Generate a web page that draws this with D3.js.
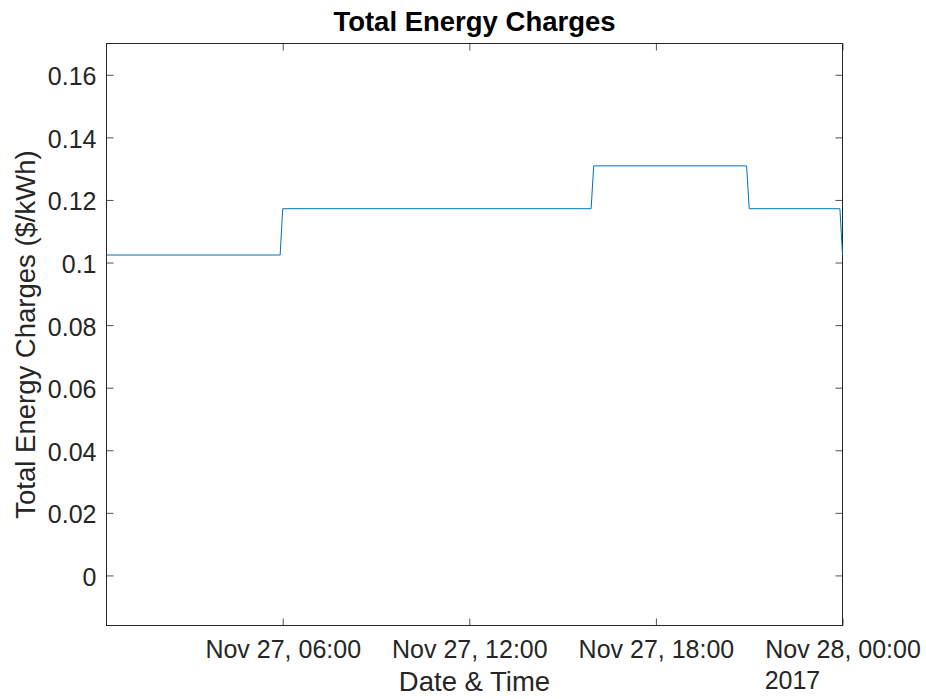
<!DOCTYPE html>
<html>
<head>
<meta charset="utf-8">
<script src="https://cdn.jsdelivr.net/npm/d3@7"></script>
<style>
  html, body { margin: 0; padding: 0; background: #fff; }
  svg { display: block; font-family: "Liberation Sans", Arial, Helvetica, sans-serif; }
</style>
</head>
<body>
<svg id="chart" width="926" height="699"></svg>
<script>
// ---- data ----
const times = ["2017-11-27T00:20","2017-11-27T05:55","2017-11-27T06:00","2017-11-27T15:55","2017-11-27T16:00","2017-11-27T20:55","2017-11-27T21:00","2017-11-27T23:55","2017-11-28T00:00"];
const values = [0.1024, 0.1024, 0.1172, 0.1172, 0.1309, 0.1309, 0.1172, 0.1172, 0.1024];
const xDomain = ["2017-11-27T00:20", "2017-11-28T00:00"];
const yDomain = [-0.016, 0.17];
const yTicks = [0, 0.02, 0.04, 0.06, 0.08, 0.1, 0.12, 0.14, 0.16];
const yTickLabels = ["0", "0.02", "0.04", "0.06", "0.08", "0.1", "0.12", "0.14", "0.16"];
const xTicks = ["2017-11-27T06:00", "2017-11-27T12:00", "2017-11-27T18:00", "2017-11-28T00:00"];
const xTickLabels = ["Nov 27, 06:00", "Nov 27, 12:00", "Nov 27, 18:00", "Nov 28, 00:00"];
const yearLabel = "2017";
const titleText = "Total Energy Charges";
const xLabelText = "Date & Time";
const yLabelText = "Total Energy Charges ($/kWh)";

// ---- layout ----
const parse = d3.timeParse("%Y-%m-%dT%H:%M");
const L = 106.5, R = 842.5, T = 43.5, B = 625.5;
const axisColor = "#262626";
const tickLen = 7;

const svg = d3.select("#chart");
const x = d3.scaleTime().domain(xDomain.map(parse)).range([L, R]);
const y = d3.scaleLinear().domain(yDomain).range([B, T]);

const data = times.map((t, i) => ({ t: parse(t), v: values[i] }));

// box
svg.append("rect").attr("x", L).attr("y", T).attr("width", R - L).attr("height", B - T)
  .attr("fill", "none").attr("stroke", axisColor).attr("stroke-width", 1);

// axes via d3 (inner ticks)
const xt = xTicks.map(parse);
const xAxisB = d3.axisBottom(x).tickValues(xt).tickSizeInner(-tickLen).tickSizeOuter(0).tickFormat((d, i) => xTickLabels[i]).tickPadding(0);
const gx = svg.append("g").attr("transform", `translate(0,${B})`).call(xAxisB);
gx.select(".domain").remove();
gx.selectAll(".tick line").attr("stroke", axisColor).attr("stroke-width", 0.8);
gx.selectAll(".tick text").attr("fill", axisColor).attr("font-size", 25)
  .attr("y", 32).attr("dy", 0).attr("font-family", "Liberation Sans, Arial, sans-serif");

const xAxisT = d3.axisTop(x).tickValues(xt).tickSizeInner(-tickLen).tickSizeOuter(0).tickFormat("");
const gxt = svg.append("g").attr("transform", `translate(0,${T})`).call(xAxisT);
gxt.select(".domain").remove();
gxt.selectAll(".tick line").attr("stroke", axisColor).attr("stroke-width", 0.8);

const yAxisL = d3.axisLeft(y).tickValues(yTicks).tickSizeInner(-tickLen).tickSizeOuter(0).tickFormat((d, i) => yTickLabels[i]).tickPadding(0);
const gy = svg.append("g").attr("transform", `translate(${L},0)`).call(yAxisL);
gy.select(".domain").remove();
gy.selectAll(".tick line").attr("stroke", axisColor).attr("stroke-width", 0.8);
gy.selectAll(".tick text").attr("fill", axisColor).attr("font-size", 25)
  .attr("x", -10).attr("dy", 10).attr("font-family", "Liberation Sans, Arial, sans-serif");

const yAxisR = d3.axisRight(y).tickValues(yTicks).tickSizeInner(-tickLen).tickSizeOuter(0).tickFormat("");
const gyr = svg.append("g").attr("transform", `translate(${R},0)`).call(yAxisR);
gyr.select(".domain").remove();
gyr.selectAll(".tick line").attr("stroke", axisColor).attr("stroke-width", 0.8);

// year label under last tick label, left aligned with it
const lastX = x(xt[xt.length - 1]);
const lastNode = gx.selectAll(".tick text").nodes()[xt.length - 1];
const lastW = lastNode.getComputedTextLength();
svg.append("text").attr("x", lastX - lastW / 2).attr("y", 688.5)
  .attr("font-size", 25).attr("fill", axisColor).text(yearLabel);

// line
const line = d3.line().x(d => x(d.t)).y(d => y(d.v));
svg.append("path").datum(data).attr("d", line).attr("fill", "none")
  .attr("stroke", "#0072BD").attr("stroke-width", 1);

// title
svg.append("text").attr("x", (L + R) / 2).attr("y", 31).attr("text-anchor", "middle")
  .attr("font-size", 27.5).attr("font-weight", "bold").attr("fill", "#000").text(titleText);

// x label
svg.append("text").attr("x", (L + R) / 2).attr("y", 691).attr("text-anchor", "middle")
  .attr("font-size", 27.5).attr("fill", axisColor).text(xLabelText);

// y label
svg.append("text").attr("transform", `translate(35,${(T + B) / 2}) rotate(-90)`)
  .attr("text-anchor", "middle").attr("font-size", 27.5).attr("fill", axisColor).text(yLabelText);
</script>
</body>
</html>
